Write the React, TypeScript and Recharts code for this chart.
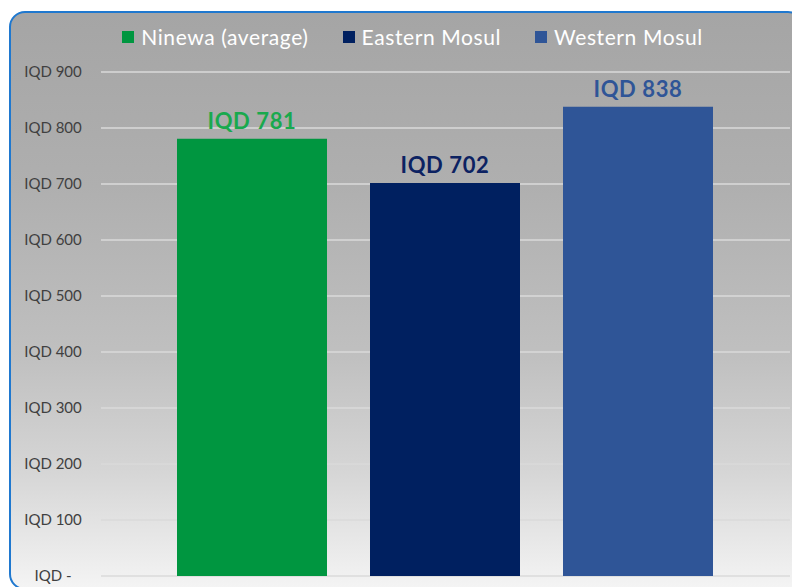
import { Bar, BarChart, CartesianGrid, LabelList, Legend, XAxis, YAxis } from 'recharts';

// Average monthly cost, one category, three series side by side.
const SERIES_KEYS = ['ninewa', 'eastern', 'western'];
const SERIES_NAMES = ['Ninewa (average)', 'Eastern Mosul', 'Western Mosul'];
const SERIES_VALUES = [781, 702, 838];
const BAR_COLORS = ['#009640', '#002060', '#2f5597'];
const LABEL_COLORS = ['#19a94e', '#0c2262', '#2f5597'];
const Y_TICKS = [0, 100, 200, 300, 400, 500, 600, 700, 800, 900];

const FONT = 'Lato, "Open Sans", sans-serif';

const row: Record<string, number | string> = { name: 'Mosul' };
SERIES_KEYS.forEach((k, i) => {
  row[k] = SERIES_VALUES[i];
});
const data = [row];

function iqd(v: number): string {
  return v === 0 ? 'IQD -' : `IQD ${v}`;
}

// Excel-style tick: label centred in the axis column.
function YTick(props: any) {
  const { y, payload } = props;
  return (
    <text x={42} y={y} dy={5} textAnchor="middle" fill="#404040" fontSize={15} fontFamily={FONT}>
      {iqd(payload.value)}
    </text>
  );
}

function LegendRow() {
  return (
    <div
      style={{
        display: 'flex',
        justifyContent: 'center',
        alignItems: 'center',
        gap: 34,
        paddingLeft: 12,
        fontFamily: FONT,
        fontSize: 21,
        letterSpacing: 0.6,
        color: '#ffffff',
      }}
    >
      {SERIES_NAMES.map((name, i) => (
        <div key={name} style={{ display: 'flex', alignItems: 'center', gap: 7 }}>
          <span style={{ width: 12, height: 12, background: BAR_COLORS[i], display: 'inline-block' }} />
          <span>{name}</span>
        </div>
      ))}
    </div>
  );
}

export default function App() {
  return (
    <div
      style={{
        marginLeft: 1,
        marginTop: 3,
        width: 791,
        height: 575,
        border: '2px solid #1f78cf',
        borderRadius: 16,
        background: 'linear-gradient(to bottom, #a5a5a5 0%, #afafaf 30%, #c0c0c0 60%, #d6d6d6 80%, #f4f4f4 100%)',
        overflow: 'hidden',
      }}
    >
      <style>{'body{overflow:hidden}'}</style>
      <BarChart
        width={791}
        height={575}
        data={data}
        margin={{ top: 59, right: 12, bottom: 12, left: 0 }}
        barCategoryGap={76}
        barGap={43}
      >
        <CartesianGrid horizontal vertical={false} stroke="#dadada" strokeWidth={1.5} />
        <XAxis dataKey="name" hide />
        <YAxis
          width={90}
          domain={[0, 900]}
          ticks={Y_TICKS}
          axisLine={false}
          tickLine={false}
          tick={<YTick />}
          interval={0}
        />
        <Legend
          verticalAlign="middle"
          content={<LegendRow />}
          wrapperStyle={{ top: 11, left: 0, width: 791 }}
        />
        {SERIES_KEYS.map((k, i) => (
          <Bar key={k} dataKey={k} name={SERIES_NAMES[i]} fill={BAR_COLORS[i]} isAnimationActive={false}>
            <LabelList
              dataKey={k}
              position="top"
              offset={10}
              formatter={(v: any) => iqd(Number(v))}
              fill={LABEL_COLORS[i]}
              fontSize={22}
              fontWeight={700}
              fontFamily={FONT}
              style={{ letterSpacing: 0.6 }}
            />
          </Bar>
        ))}
      </BarChart>
    </div>
  );
}
